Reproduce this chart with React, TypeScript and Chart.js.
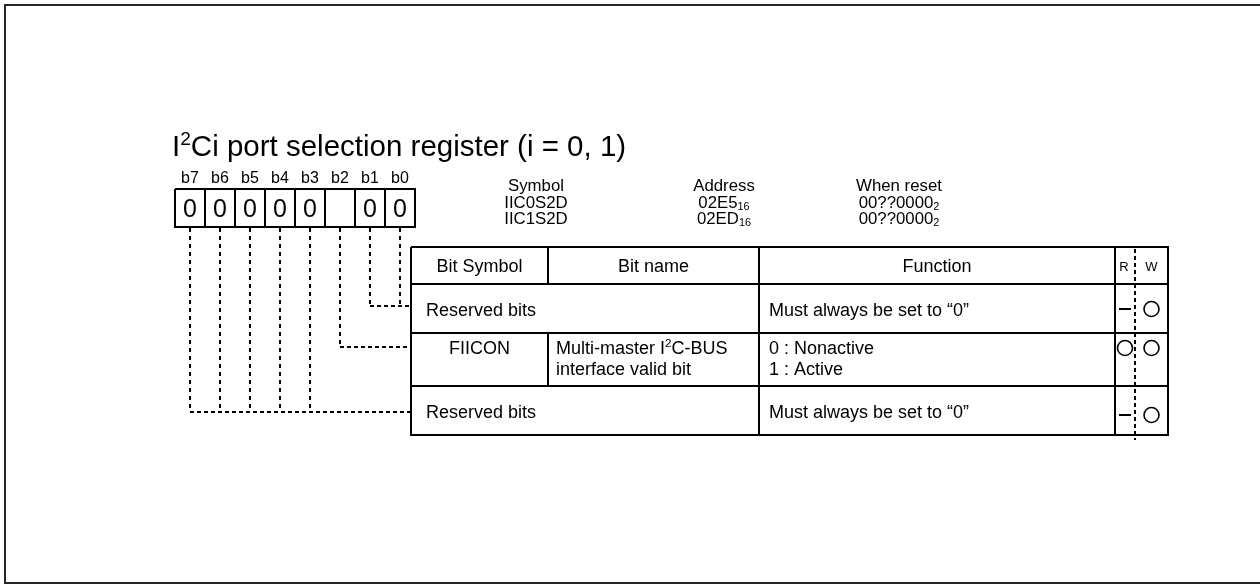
import { useEffect, useRef } from 'react';
import { Chart, registerables } from 'chart.js';

Chart.register(...registerables);

// ---------- DATA ----------
const titleParts: [string, string][] = [['I', ''], ['2', 'sup'], ['Ci port selection register (i = 0, 1)', '']];
const bitLabels = ['b7', 'b6', 'b5', 'b4', 'b3', 'b2', 'b1', 'b0'];
const bitValues = ['0', '0', '0', '0', '0', '', '0', '0'];
const infoHeaders = ['Symbol', 'Address', 'When reset'];
const symbols = ['IIC0S2D', 'IIC1S2D'];
const addresses = ['02E5', '02ED'];
const addressBase = '16';
const resetValues = ['00??0000', '00??0000'];
const resetBase = '2';
const tableHeaders = ['Bit Symbol', 'Bit name', 'Function', 'R', 'W'];
const rowBits = [[1, 0], [2], [7, 6, 5, 4, 3]];
const rowSymbols = ['', 'FIICON', ''];
const rowNames: [string, string][][][] = [
  [[['Reserved bits', '']]],
  [
    [['Multi-master I', ''], ['2', 'sup'], ['C-BUS', '']],
    [['interface valid bit', '']],
  ],
  [[['Reserved bits', '']]],
];
const rowFunctions = [
  ['Must always be set to \u201C0\u201D'],
  ['0 : Nonactive', '1 : Active'],
  ['Must always be set to \u201C0\u201D'],
];
const rowRead = ['dash', 'circle', 'dash'];
const rowWrite = ['circle', 'circle', 'circle'];

// ---------- LAYOUT ----------
const W = 1260;
const H = 585;
const FONT = '"Liberation Sans", Arial, Helvetica, sans-serif';
const frame = { left: 5, top: 5, bottom: 583, right: 1265 };
const title = { x: 172, base: 156, size: 29.5 };
const reg = { left: 175, cellW: 30, top: 189, bottom: 227, labelBase: 183, labelSize: 16, digitSize: 25, digitBase: 217 };
const info = { centers: [536, 724, 899], bases: [191, 207.5, 224], size: 16.8 };
const colEdges = [411, 548, 759, 1115, 1168];
const rwDivider = 1135;
const rowEdges = [247, 284, 333, 386, 435];
const rowConnectY = [306, 347, 412];
const rowLineBases = [[315.5], [353.5, 374.5], [417.5]];
const textSize = 18;
const textPad = 15;
const rwSize = 13;
const circleR = 7.5;

const bitX = (i: number) => reg.left + reg.cellW * i + reg.cellW / 2;

function seg(points: number[][], width = 2, dash: number[] = [], color = '#000') {
  return {
    type: 'scatter' as const,
    data: points.map(([x, y]) => ({ x, y })),
    showLine: true,
    pointRadius: 0,
    borderColor: color,
    borderWidth: width,
    borderDash: dash,
    fill: false,
    clip: false as any,
  };
}

function buildDatasets() {
  const ds: any[] = [];
  // frame
  ds.push(seg([[frame.right, frame.top], [frame.left, frame.top], [frame.left, frame.bottom], [frame.right, frame.bottom]], 2, [], '#262626'));
  // register box
  const regRight = reg.left + reg.cellW * bitLabels.length;
  ds.push(seg([[reg.left, reg.top], [regRight, reg.top], [regRight, reg.bottom], [reg.left, reg.bottom], [reg.left, reg.top]], 2));
  for (let i = 1; i < bitLabels.length; i++) {
    const x = reg.left + reg.cellW * i;
    ds.push(seg([[x, reg.top], [x, reg.bottom]], 2));
  }
  // connectors
  rowBits.forEach((bits, r) => {
    const y = rowConnectY[r];
    let minX = Infinity;
    bits.forEach((b) => {
      const idx = bitLabels.indexOf('b' + b);
      const x = bitX(idx);
      minX = Math.min(minX, x);
      ds.push(seg([[x, reg.bottom + 1], [x, y]], 2, [4, 4]));
    });
    ds.push(seg([[minX, y], [colEdges[0], y]], 2, [4, 3]));
  });
  // table outer + rows
  const tl = colEdges[0];
  const tr = colEdges[colEdges.length - 1];
  ds.push(seg([[tl, rowEdges[0]], [tr, rowEdges[0]], [tr, rowEdges[rowEdges.length - 1]], [tl, rowEdges[rowEdges.length - 1]], [tl, rowEdges[0]]], 2));
  for (let r = 1; r < rowEdges.length - 1; r++) {
    ds.push(seg([[tl, rowEdges[r]], [tr, rowEdges[r]]], 2));
  }
  // column separators
  ds.push(seg([[colEdges[1], rowEdges[0]], [colEdges[1], rowEdges[1]]], 2));
  rowSymbols.forEach((s, r) => {
    if (s) ds.push(seg([[colEdges[1], rowEdges[r + 1]], [colEdges[1], rowEdges[r + 2]]], 2));
  });
  ds.push(seg([[colEdges[2], rowEdges[0]], [colEdges[2], rowEdges[rowEdges.length - 1]]], 2));
  ds.push(seg([[colEdges[3], rowEdges[0]], [colEdges[3], rowEdges[rowEdges.length - 1]]], 2));
  ds.push(seg([[rwDivider, rowEdges[0] + 2], [rwDivider, rowEdges[rowEdges.length - 1] + 5]], 2, [4, 3]));
  // R dashes
  const rCenter = (colEdges[3] + rwDivider) / 2;
  const wCenter = (rwDivider + colEdges[4]) / 2;
  rowRead.forEach((k, r) => {
    const y = rowConnectY[r] + 3;
    if (k === 'dash') ds.push(seg([[rCenter - 6, y], [rCenter + 6, y]], 2));
  });
  // circles
  const circles: { x: number; y: number }[] = [];
  rowRead.forEach((k, r) => {
    if (k === 'circle') circles.push({ x: rCenter, y: rowConnectY[r] + 1 });
  });
  rowWrite.forEach((k, r) => {
    if (k === 'circle') circles.push({ x: wCenter, y: r === 1 ? rowConnectY[r] + 1 : rowConnectY[r] + 3 });
  });
  ds.push({
    type: 'scatter',
    data: circles,
    showLine: false,
    pointRadius: circleR,
    pointStyle: 'circle',
    pointBackgroundColor: '#fff',
    pointBorderColor: '#000',
    pointBorderWidth: 1.6,
    clip: false,
  });
  return ds;
}

type Part = [string, string];

function richWidth(ctx: CanvasRenderingContext2D, parts: Part[], size: number) {
  let w = 0;
  for (const [t, k] of parts) {
    ctx.font = `${k ? size * 0.65 : size}px ${FONT}`;
    w += ctx.measureText(t).width;
  }
  return w;
}

function drawRich(ctx: CanvasRenderingContext2D, parts: Part[], x: number, base: number, size: number, align: 'left' | 'center' = 'left') {
  let cx = align === 'center' ? x - richWidth(ctx, parts, size) / 2 : x;
  ctx.textAlign = 'left';
  ctx.textBaseline = 'alphabetic';
  for (const [t, k] of parts) {
    const s = k ? size * 0.65 : size;
    ctx.font = `${s}px ${FONT}`;
    const dy = k === 'sup' ? -size * 0.38 : k === 'sub' ? size * 0.12 : 0;
    ctx.fillText(t, cx, base + dy);
    cx += ctx.measureText(t).width;
  }
}

const textPlugin = {
  id: 'registerText',
  afterDraw(chart: any) {
    const ctx: CanvasRenderingContext2D = chart.ctx;
    const xs = chart.scales.x;
    const ys = chart.scales.y;
    const px = (v: number) => xs.getPixelForValue(v);
    const py = (v: number) => ys.getPixelForValue(v);
    ctx.save();
    ctx.fillStyle = '#000';
    // title
    drawRich(ctx, titleParts, px(title.x), py(title.base), title.size);
    // bit labels & values
    bitLabels.forEach((l, i) => {
      drawRich(ctx, [[l, '']], px(bitX(i)), py(reg.labelBase), reg.labelSize, 'center');
      if (bitValues[i]) drawRich(ctx, [[bitValues[i], '']], px(bitX(i)), py(reg.digitBase), reg.digitSize, 'center');
    });
    // info block
    infoHeaders.forEach((h, i) => drawRich(ctx, [[h, '']], px(info.centers[i]), py(info.bases[0]), info.size, 'center'));
    symbols.forEach((s, i) => drawRich(ctx, [[s, '']], px(info.centers[0]), py(info.bases[i + 1]), info.size, 'center'));
    addresses.forEach((a, i) => drawRich(ctx, [[a, ''], [addressBase, 'sub']], px(info.centers[1]), py(info.bases[i + 1]), info.size, 'center'));
    resetValues.forEach((v, i) => drawRich(ctx, [[v, ''], [resetBase, 'sub']], px(info.centers[2]), py(info.bases[i + 1]), info.size, 'center'));
    // table header
    const hb = (rowEdges[0] + rowEdges[1]) / 2 + textSize * 0.36;
    for (let c = 0; c < 3; c++) {
      drawRich(ctx, [[tableHeaders[c], '']], px((colEdges[c] + colEdges[c + 1]) / 2), py(hb), textSize, 'center');
    }
    const rCenter = (colEdges[3] + rwDivider) / 2;
    const wCenter = (rwDivider + colEdges[4]) / 2;
    drawRich(ctx, [[tableHeaders[3], '']], px(rCenter - 1), py(hb - 1), rwSize, 'center');
    drawRich(ctx, [[tableHeaders[4], '']], px(wCenter), py(hb - 1), rwSize, 'center');
    // rows
    rowNames.forEach((lines, r) => {
      const bases = rowLineBases[r];
      if (rowSymbols[r]) {
        drawRich(ctx, [[rowSymbols[r], '']], px((colEdges[0] + colEdges[1]) / 2), py(bases[0]), textSize, 'center');
        lines.forEach((parts, li) => drawRich(ctx, parts, px(colEdges[1] + 8), py(bases[li]), textSize));
      } else {
        lines.forEach((parts, li) => drawRich(ctx, parts, px(colEdges[0] + textPad), py(bases[li]), textSize));
      }
      rowFunctions[r].forEach((f, li) => drawRich(ctx, [[f, '']], px(colEdges[2] + 10), py(bases[li]), textSize));
    });
    ctx.restore();
  },
};

export default function App() {
  const ref = useRef<HTMLCanvasElement | null>(null);
  useEffect(() => {
    document.body.style.margin = '0';
    const canvas = ref.current;
    if (!canvas) return;
    const chart = new Chart(canvas, {
      type: 'scatter',
      data: { datasets: buildDatasets() },
      options: {
        responsive: false,
        animation: false,
        events: [],
        layout: { padding: 0, autoPadding: false },
        plugins: { legend: { display: false }, tooltip: { enabled: false } },
        scales: {
          x: { type: 'linear', min: 0, max: W, display: false },
          y: { type: 'linear', min: 0, max: H, reverse: true, display: false },
        },
      },
      plugins: [textPlugin],
    });
    return () => chart.destroy();
  }, []);
  return <canvas ref={ref} width={W} height={H} style={{ display: 'block', background: '#fff' }} />;
}
